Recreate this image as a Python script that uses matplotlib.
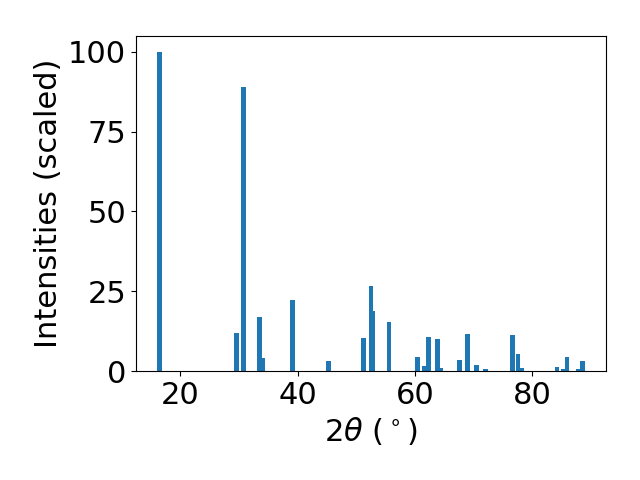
import matplotlib
matplotlib.use("Agg")
import matplotlib.pyplot as plt
from matplotlib.ticker import MultipleLocator

# peak positions (2theta, degrees) and scaled intensities
two_theta = [16.53, 29.6, 30.8, 33.54, 34.1, 39.18, 45.33, 51.23, 52.51, 52.77,
             55.59, 60.38, 61.54, 62.26, 63.88, 64.4, 67.55, 68.92, 70.46, 72.0,
             76.62, 77.56, 78.2, 84.2, 85.2, 85.86, 87.74, 88.5]
intensities = [100.0, 11.9, 89.0, 16.9, 4.1, 22.3, 3.1, 10.3, 26.6, 18.8,
               15.4, 4.4, 1.6, 10.7, 10.0, 0.9, 3.4, 11.6, 1.9, 0.6,
               11.3, 5.3, 0.9, 1.3, 0.6, 4.4, 0.6, 3.1]

plt.rcParams["font.size"] = 22

fig = plt.figure(figsize=(6.4, 4.8), dpi=100)
ax = fig.add_subplot(111)
ax.bar(two_theta, intensities, width=0.8)
ax.yaxis.set_major_locator(MultipleLocator(25))
ax.xaxis.set_major_locator(MultipleLocator(20))
ax.set_xlabel(r"$2\theta$ ($^\circ$)")
ax.set_ylabel("Intensities (scaled)")
fig.subplots_adjust(left=0.2125, right=0.947, top=0.925, bottom=0.227)
fig.savefig("out.png")
